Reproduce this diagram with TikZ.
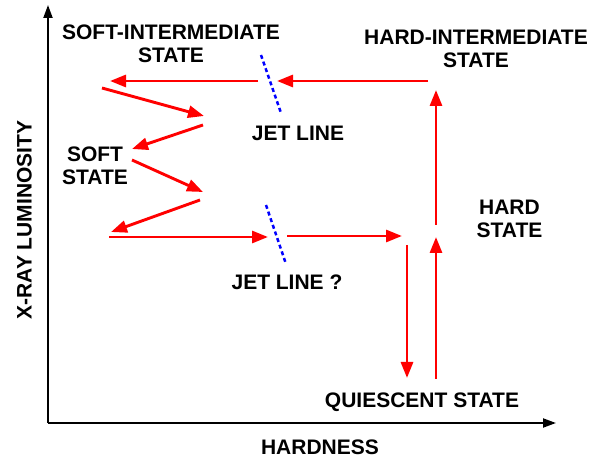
\documentclass[tikz,border=0pt]{standalone}
\usepackage{fontspec}
\setmainfont{Liberation Sans}
\usetikzlibrary{arrows.meta}
\begin{document}
\begin{tikzpicture}[x=1pt,y=-1pt,
  lbl/.style={font=\fontsize{21}{23}\selectfont\bfseries, align=center, inner sep=0pt},
  axis/.style={black, line width=2pt, -{Triangle[length=13pt,width=9pt]}},
  flow/.style={red, line width=2.9pt, -{Triangle[length=16pt,width=12pt]}},
  jet/.style={blue, line width=2.5pt, dash pattern=on 4pt off 3pt}]
\useasboundingbox (0,0) rectangle (592,462);
% axes
\coordinate (O) at (48,423);
\coordinate (Ytop) at (48,5);
\coordinate (Xend) at (556,423);
\draw[axis] (O) -- (Ytop);
\draw[axis] (O) -- (Xend);
\node[lbl, rotate=90] (ylab) at (24.5,220) {X-RAY LUMINOSITY};
\node[lbl] (xlab) at (320,447) {HARDNESS};
% labels
\node[lbl] (sis) at (171,43.5) {SOFT-INTERMEDIATE\\STATE};
\node[lbl] (his) at (476,48.5) {HARD-INTERMEDIATE\\STATE};
\node[lbl] (jet1) at (298,133) {JET LINE};
\node[lbl] (soft) at (95,166) {SOFT\\STATE};
\node[lbl] (jet2) at (287,282) {JET LINE ?};
\node[lbl] (hard) at (509.5,219) {HARD\\STATE};
\node[lbl] (qs) at (422,402) {QUIESCENT STATE};
% path coordinates
\coordinate (a1) at (428,81);
\coordinate (a2) at (277,81);
\coordinate (b1) at (258,81);
\coordinate (b2) at (110,81);
\coordinate (c1) at (102,88);
\coordinate (c2) at (204,116);
\coordinate (d1) at (203,125);
\coordinate (d2) at (132,149);
\coordinate (e1) at (132,160);
\coordinate (e2) at (203,192);
\coordinate (f1) at (200,200);
\coordinate (f2) at (111,232);
\coordinate (g1) at (109,237);
\coordinate (g2) at (268,237);
\coordinate (h1) at (287,236);
\coordinate (h2) at (402,236);
\coordinate (i1) at (407,245);
\coordinate (i2) at (407,378);
\coordinate (j1) at (436,379);
\coordinate (j2) at (436,237);
\coordinate (k1) at (436,225);
\coordinate (k2) at (436,90);
\draw[flow] (a1) -- (a2);
\draw[flow] (b1) -- (b2);
\draw[flow] (c1) -- (c2);
\draw[flow] (d1) -- (d2);
\draw[flow] (e1) -- (e2);
\draw[flow] (f1) -- (f2);
\draw[flow] (g1) -- (g2);
\draw[flow] (h1) -- (h2);
\draw[flow] (i1) -- (i2);
\draw[flow] (j1) -- (j2);
\draw[flow] (k1) -- (k2);
% jet lines
\coordinate (u1) at (261,55);
\coordinate (u2) at (281,113);
\coordinate (l1) at (266,205);
\coordinate (l2) at (286,264);
\draw[jet] (u1) -- (u2);
\draw[jet] (l1) -- (l2);
\end{tikzpicture}
\end{document}
